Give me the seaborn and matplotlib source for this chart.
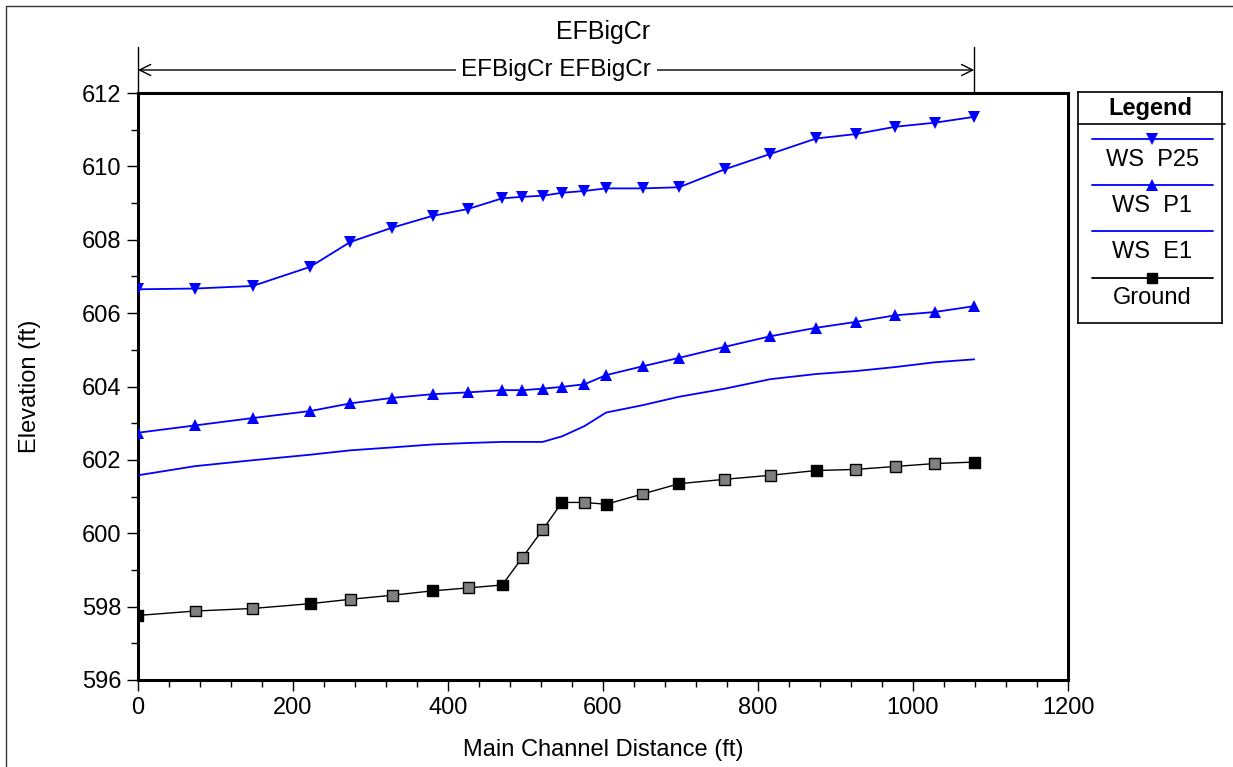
import numpy as np
import pandas as pd
import matplotlib
matplotlib.use("Agg")
import matplotlib.pyplot as plt
import seaborn as sns
from matplotlib.lines import Line2D

# ---------------- data ----------------
station_ft = [0, 74, 148, 222, 274, 328, 380, 426, 470, 496, 522, 547, 576,
              604, 651, 698, 757, 816, 875, 926, 977, 1028, 1079]
ws_p25 = [606.65, 606.67, 606.74, 607.26, 607.94, 608.33, 608.65, 608.84, 609.13,
          609.17, 609.20, 609.28, 609.33, 609.40, 609.40, 609.43, 609.92, 610.34,
          610.76, 610.88, 611.08, 611.19, 611.35]
ws_p1 = [602.74, 602.94, 603.14, 603.33, 603.54, 603.69, 603.79, 603.84, 603.90,
         603.90, 603.94, 603.99, 604.06, 604.31, 604.55, 604.78, 605.08, 605.37,
         605.60, 605.76, 605.94, 606.03, 606.19]
ws_e1 = [601.58, 601.83, 601.99, 602.14, 602.26, 602.34, 602.42, 602.46, 602.49,
         602.49, 602.49, 602.64, 602.92, 603.29, 603.49, 603.72, 603.94, 604.20,
         604.34, 604.42, 604.53, 604.66, 604.74]
ground = [597.76, 597.88, 597.95, 598.08, 598.20, 598.31, 598.43, 598.51, 598.59,
          599.34, 600.09, 600.84, 600.84, 600.79, 601.07, 601.35, 601.47, 601.58,
          601.71, 601.74, 601.82, 601.90, 601.94]
ground_fill = ["black", "gray", "gray", "black", "gray", "gray", "black", "gray",
               "black", "gray", "gray", "black", "gray", "black", "gray", "black",
               "gray", "gray", "black", "gray", "gray", "gray", "black"]

title = "EFBigCr"
reach_label = "EFBigCr EFBigCr"
x_label = "Main Channel Distance (ft)"
y_label = "Elevation (ft)"
legend_title = "Legend"
legend_names = ["WS  P25", "WS  P1", "WS  E1", "Ground"]
x_ticks = [0, 200, 400, 600, 800, 1000, 1200]
y_ticks = [596, 598, 600, 602, 604, 606, 608, 610, 612]

df = pd.DataFrame({"station": station_ft, "ws_p25": ws_p25, "ws_p1": ws_p1,
                   "ws_e1": ws_e1, "ground": ground, "fill": ground_fill})

# ---------------- style ----------------
sns.set_theme(style="ticks")
plt.rcParams["font.family"] = ["Liberation Sans", "DejaVu Sans"]
plt.rcParams["axes.edgecolor"] = "black"

FS = 17

W, H = 1233, 767
fig = plt.figure(figsize=(W / 100, H / 100), dpi=100)
fig.patch.set_facecolor("white")

# outer border (left/top visible)
fig.add_artist(plt.Rectangle((5.5 / W, -0.1), 1.2, (H - 5.5) / H + 0.1,
                             transform=fig.transFigure, fill=False,
                             edgecolor="#333333", lw=1.0))

L, R, T, B = 138, 1068, 93, 680
ax = fig.add_axes([L / W, 1 - B / H, (R - L) / W, (B - T) / H])

BLUE = "#0000ff"
sns.lineplot(data=df, x="station", y="ws_p25", ax=ax, color=BLUE, lw=1.3,
             marker="v", markersize=9, markeredgewidth=0, sort=False,
             estimator=None, zorder=4)
sns.lineplot(data=df, x="station", y="ws_p1", ax=ax, color=BLUE, lw=1.3,
             marker="^", markersize=9, markeredgewidth=0, sort=False,
             estimator=None, zorder=4)
sns.lineplot(data=df, x="station", y="ws_e1", ax=ax, color=BLUE, lw=1.3,
             sort=False, estimator=None, zorder=4)
sns.lineplot(data=df, x="station", y="ground", ax=ax, color="black", lw=1.0,
             sort=False, estimator=None, zorder=3)
sns.scatterplot(data=df, x="station", y="ground", hue="fill", ax=ax,
                palette={"black": "#000000", "gray": "#808080"}, marker="s",
                s=62, edgecolor="black", linewidth=1.0, legend=False, zorder=5)

ax.set_xlim(0, 1200)
ax.set_ylim(596, 612)
ax.set_xticks(x_ticks)
ax.set_yticks(y_ticks)
ax.set_xticks(np.arange(0, 1201, 40), minor=True)
ax.set_yticks(np.arange(596, 613, 1), minor=True)
ax.tick_params(axis="both", which="major", direction="out", length=8, width=1,
               labelsize=FS, color="black", labelcolor="black")
ax.tick_params(axis="both", which="minor", direction="out", length=5, width=1,
               color="black")
ax.tick_params(axis="x", which="major", pad=4)
ax.tick_params(axis="y", which="major", pad=4)
for sp in ax.spines.values():
    sp.set_linewidth(2.2)
    sp.set_color("black")

ax.set_xlabel(x_label, fontsize=FS, color="black")
ax.set_ylabel(y_label, fontsize=FS, color="black")
ax.xaxis.set_label_coords(0.5, (B - 750) / (B - T))
ax.xaxis.label.set_va("center")
ax.yaxis.set_label_coords((30 - L) / (R - L), 0.5)
ax.yaxis.label.set_va("center")

# title
fig.text(603 / W, 1 - 32 / H, title, ha="center", va="center", fontsize=18,
         color="black")

# reach annotation above the axes
y_arrow = 612 + (T - 70) / ((B - T) / 16)
y_top = 612 + (T - 47) / ((B - T) / 16)
x0, x1 = station_ft[0], station_ft[-1]
for xv in (x0, x1):
    ax.plot([xv, xv], [612, y_top], color="black", lw=1.0, clip_on=False,
            zorder=6)
ax.annotate("", xy=(x0, y_arrow), xytext=(x1, y_arrow),
            arrowprops=dict(arrowstyle="<->", lw=1.0, color="black",
                            shrinkA=0, shrinkB=0, mutation_scale=20),
            annotation_clip=False)
ax.text((x0 + x1) / 2, y_arrow, reach_label, ha="center", va="center",
        fontsize=17.5, color="black", clip_on=False,
        bbox=dict(facecolor="white", edgecolor="none", pad=4))

# custom legend box
lx0, lx1, ly0, ly1 = 1078, 1222, 92, 323
lax = fig.add_axes([lx0 / W, 1 - ly1 / H, (lx1 - lx0) / W, (ly1 - ly0) / H])
lax.set_xlim(0, 1)
lax.set_ylim(0, 1)
lax.set_xticks([])
lax.set_yticks([])
for sp in lax.spines.values():
    sp.set_linewidth(1.2)
    sp.set_color("black")
    sp.set_visible(True)
lh = ly1 - ly0
fy = lambda y: (ly1 - y) / lh
lax.text(0.5, fy(108), legend_title, ha="center", va="center", fontsize=FS,
         fontweight="bold", color="black")
lax.plot([0, 1.02], [fy(124), fy(124)], color="black", lw=1.2, clip_on=False)
styles = [dict(color=BLUE, marker="v", ms=9, mew=0),
          dict(color=BLUE, marker="^", ms=9, mew=0),
          dict(color=BLUE, marker=None),
          dict(color="black", marker="s", ms=6.5, mfc="black", mec="black")]
line_y = [139, 185, 231, 278]
text_y = [160, 206, 252, 298]
for name, st, yl, yt in zip(legend_names, styles, line_y, text_y):
    lax.add_line(Line2D([0.097, 0.937], [fy(yl), fy(yl)], lw=1.3,
                        color=st["color"]))
    if st.get("marker"):
        lax.plot([0.517], [fy(yl)], linestyle="none", marker=st["marker"],
                 markersize=st["ms"], markeredgewidth=st.get("mew", 1),
                 color=st["color"], mfc=st.get("mfc", st["color"]),
                 mec=st.get("mec", st["color"]))
    lax.text(0.517, fy(yt), name, ha="center", va="center", fontsize=FS,
             color="black")

fig.savefig("out.png", dpi=100, facecolor="white")
